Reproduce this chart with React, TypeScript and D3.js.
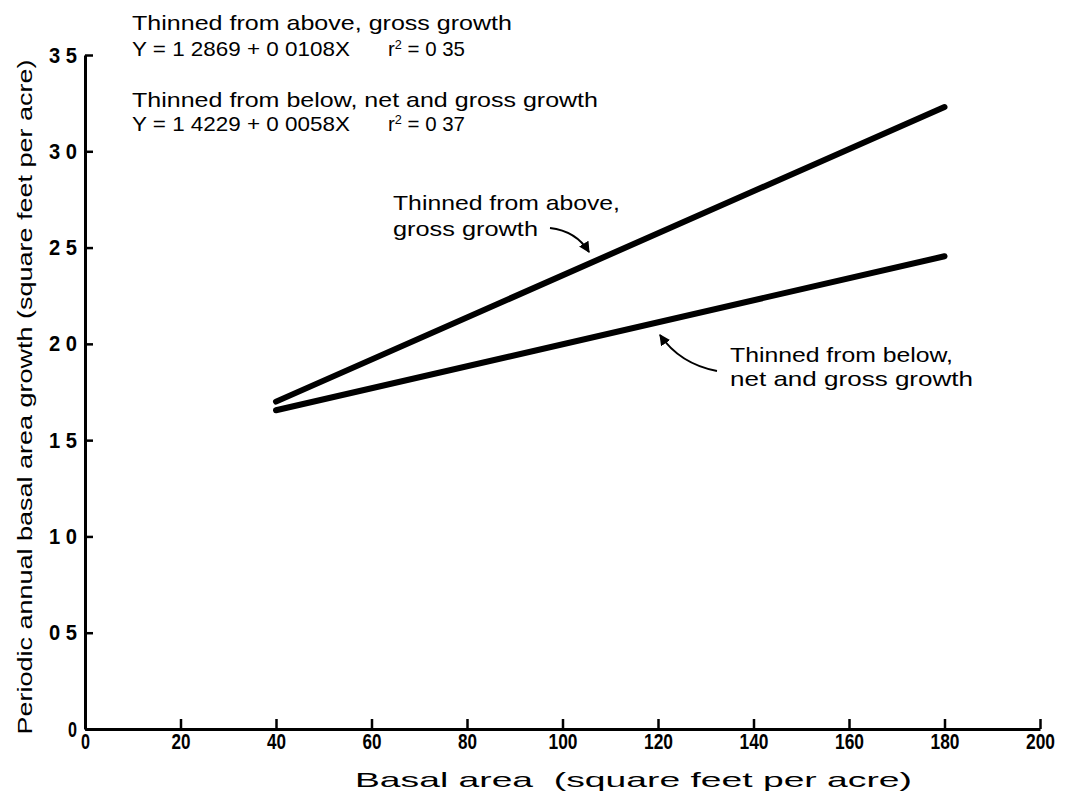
import { useRef, useEffect } from 'react';
import * as d3 from 'd3';

// fitted lines (basal area -> growth)
const aboveLine: [number, number][] = [[40, 1.70], [180, 3.23]];
const belowLine: [number, number][] = [[40, 1.655], [180, 2.455]];

const xTicks = [0, 20, 40, 60, 80, 100, 120, 140, 160, 180, 200];
const yTicks = [0, 0.5, 1.0, 1.5, 2.0, 2.5, 3.0, 3.5];
const yTickLabels = ['0', '0 5', '1 0', '1 5', '2 0', '2 5', '3 0', '3 5'];

const headerLines = [
  'Thinned from above, gross growth',
  'Y = 1 2869 + 0 0108X',
  'Thinned from below, net and gross growth',
  'Y = 1 4229 + 0 0058X',
];
const rSquared = ['0 35', '0 37'];

const W = 1068;
const H = 792;
const tickFont = '"Liberation Sans", Arial, sans-serif';
const textFont = '"Liberation Sans", Arial, Helvetica, sans-serif';

export default function App() {
  const svgRef = useRef<SVGSVGElement>(null);

  useEffect(() => {
    if (!svgRef.current) return;
    const svg = d3.select(svgRef.current);
    svg.selectAll('*').remove();

    const x = d3.scaleLinear().domain([0, 200]).range([85, 1040]);
    const y = d3.scaleLinear().domain([0, 3.5]).range([729, 55]);

    // Y axis, ticks pointing into the plot
    const yAxis = svg.append('g')
      .attr('transform', `translate(${x(0)},0)`)
      .call(
        d3.axisLeft(y)
          .tickValues(yTicks)
          .tickSizeInner(-8)
          .tickSizeOuter(0)
          .tickPadding(8)
          .tickFormat((d, i) => yTickLabels[i])
      );
    yAxis.select('.domain').attr('stroke-width', 3);
    yAxis.selectAll('.tick line').attr('stroke-width', 2.5);
    yAxis.selectAll<SVGTextElement, number>('.tick text')
      .attr('font-family', tickFont)
      .attr('font-weight', 'bold')
      .attr('font-size', 22)
      .attr('fill', '#000')
      .attr('textLength', (d, i) => (yTickLabels[i].length > 1 ? 28 : 9))
      .attr('lengthAdjust', 'spacingAndGlyphs');

    // X axis, ticks pointing up
    const xAxis = svg.append('g')
      .attr('transform', `translate(0,${y(0)})`)
      .call(
        d3.axisBottom(x)
          .tickValues(xTicks)
          .tickSizeInner(-10)
          .tickSizeOuter(0)
          .tickPadding(4)
          .tickFormat(d3.format('d'))
      );
    xAxis.select('.domain').attr('stroke-width', 3);
    xAxis.selectAll('.tick line').attr('stroke-width', 2.5);
    xAxis.selectAll<SVGTextElement, number>('.tick text')
      .attr('font-family', tickFont)
      .attr('font-weight', 'bold')
      .attr('font-size', 22)
      .attr('fill', '#000')
      .attr('textLength', d => String(d).length * 10 - 1)
      .attr('lengthAdjust', 'spacingAndGlyphs');

    // regression lines
    const line = d3.line<[number, number]>()
      .x(d => x(d[0]))
      .y(d => y(d[1]));
    [aboveLine, belowLine].forEach(data => {
      svg.append('path')
        .datum(data)
        .attr('d', line)
        .attr('fill', 'none')
        .attr('stroke', '#000')
        .attr('stroke-width', 6)
        .attr('stroke-linecap', 'round');
    });

    // header text with equations
    const header = svg.append('g')
      .attr('font-family', textFont)
      .attr('font-size', 21)
      .attr('fill', '#000');
    const headerY = [30, 56, 107, 131];
    const headerLen = [380, 218, 466, 218];
    headerLines.forEach((t, i) => {
      header.append('text')
        .attr('x', 132)
        .attr('y', headerY[i])
        .attr('textLength', headerLen[i])
        .attr('lengthAdjust', 'spacingAndGlyphs')
        .text(t);
    });
    [1, 3].forEach((li, k) => {
      const tx = header.append('text')
        .attr('x', 388)
        .attr('y', headerY[li])
        .attr('textLength', 77)
        .attr('lengthAdjust', 'spacingAndGlyphs');
      tx.append('tspan').text('r');
      tx.append('tspan').attr('font-size', 13).attr('dy', -7).text('2');
      tx.append('tspan').attr('dy', 7).text(` = ${rSquared[k]}`);
    });

    // arrowhead
    svg.append('defs').append('marker')
      .attr('id', 'arrowhead')
      .attr('viewBox', '0 0 10 10')
      .attr('refX', 9)
      .attr('refY', 5)
      .attr('markerWidth', 5.5)
      .attr('markerHeight', 5.5)
      .attr('orient', 'auto')
      .append('path')
      .attr('d', 'M0,0 L10,5 L0,10 z')
      .attr('fill', '#000');

    const annot = svg.append('g')
      .attr('font-family', textFont)
      .attr('font-size', 21)
      .attr('fill', '#000');
    const annotations = [
      { t: 'Thinned from above,', x: 393, y: 210, len: 227 },
      { t: 'gross growth', x: 393, y: 236, len: 145 },
      { t: 'Thinned from below,', x: 730, y: 362, len: 223 },
      { t: 'net and gross growth', x: 730, y: 386, len: 243 },
    ];
    annotations.forEach(a => {
      annot.append('text')
        .attr('x', a.x)
        .attr('y', a.y)
        .attr('textLength', a.len)
        .attr('lengthAdjust', 'spacingAndGlyphs')
        .text(a.t);
    });

    svg.append('path')
      .attr('d', 'M550,228 Q576,231 589,252')
      .attr('fill', 'none')
      .attr('stroke', '#000')
      .attr('stroke-width', 2)
      .attr('marker-end', 'url(#arrowhead)');
    svg.append('path')
      .attr('d', 'M717,371 Q680,364 660,335')
      .attr('fill', 'none')
      .attr('stroke', '#000')
      .attr('stroke-width', 2)
      .attr('marker-end', 'url(#arrowhead)');

    // axis titles
    svg.append('text')
      .attr('x', 355)
      .attr('y', 787)
      .attr('font-family', textFont)
      .attr('font-size', 21)
      .attr('textLength', 557)
      .attr('lengthAdjust', 'spacingAndGlyphs')
      .style('white-space', 'pre')
      .text('Basal area  (square feet per acre)');
    svg.append('text')
      .attr('transform', `translate(32,397) rotate(-90)`)
      .attr('text-anchor', 'middle')
      .attr('font-family', textFont)
      .attr('font-size', 21)
      .attr('textLength', 675)
      .attr('lengthAdjust', 'spacingAndGlyphs')
      .text('Periodic annual basal area growth (square feet per acre)');
  }, []);

  return (
    <svg
      ref={svgRef}
      width={W}
      height={H}
      style={{ display: 'block', position: 'absolute', left: 0, top: 0, background: '#fff' }}
    />
  );
}
